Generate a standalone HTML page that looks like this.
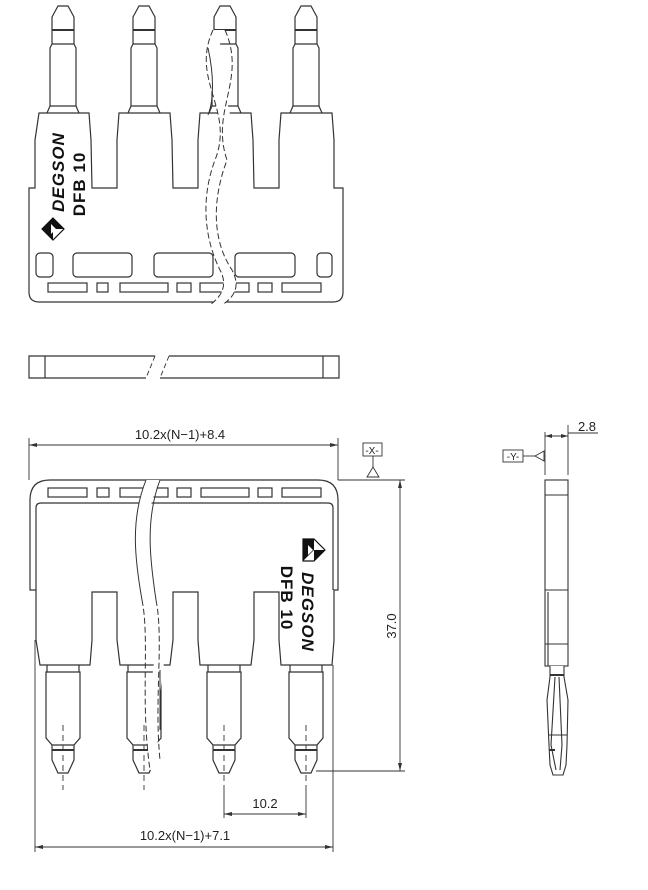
<!DOCTYPE html>
<html><head><style>
html,body{margin:0;padding:0;background:#fff;}
svg{display:block;}
text{font-family:"Liberation Sans",sans-serif;fill:#222;}
</style></head><body>
<svg width="648" height="890" viewBox="0 0 648 890" xmlns="http://www.w3.org/2000/svg">
<defs>
<g id="pinTop" fill="#fff" stroke="#333" stroke-width="1.2">
  <path d="M-16,113 L-13,106 L-13,48 L-11,44 L-11,17 L-5,6 L5,6 L11,17 L11,44 L13,48 L13,106 L16,113"/>
  <line x1="-11" y1="30" x2="11" y2="30" stroke-width="2"/>
  <line x1="-11" y1="44" x2="11" y2="44"/>
  <line x1="-13" y1="106" x2="13" y2="106"/>
</g>
<g id="pinBot" fill="#fff" stroke="#333" stroke-width="1.2">
  <path d="M-16,665 L-16,672 L-17,672 L-17,738 L-11,745 L-11,760 L-5,773 L5,773 L11,760 L11,745 L17,738 L17,672 L16,672 L16,665"/>
  <line x1="-16" y1="672" x2="16" y2="672"/>
  <line x1="-11" y1="745" x2="11" y2="745"/>
  <line x1="-11" y1="750" x2="11" y2="750" stroke-width="2"/>
  <line x1="0" y1="725" x2="0" y2="790" stroke-dasharray="6,4" stroke-width="0.9"/>
</g>
</defs>

<use href="#pinTop" x="63"/>
<use href="#pinTop" x="144"/>
<use href="#pinTop" x="225"/>
<use href="#pinTop" x="306"/>
<path d="M39,113 L89,113 L91,140 L92,188 L117,188 L117,140 L119,113 L170,113 L172,140 L173,188 L198,188 L198,140 L200,113 L251,113 L253,140 L254,188 L279,188 L279,140 L281,113 L332,113 L334,140 L334,188 L343,188 L343,292 Q343,302 333,302 L39,302 Q29,302 29,292 L29,188 L35,188 L35,140 Z" fill="#fff" stroke="#333" stroke-width="1.2"/>
<g fill="none" stroke="#333" stroke-width="1.2">
  <rect x="36" y="253" width="17" height="24" rx="4"/>
  <rect x="73" y="253" width="59" height="24" rx="4"/>
  <rect x="154" y="253" width="59" height="24" rx="4"/>
  <rect x="235" y="253" width="60" height="24" rx="4"/>
  <rect x="317" y="253" width="15" height="24" rx="4"/>
  <rect x="48" y="283" width="39" height="9"/>
  <rect x="97" y="283" width="11" height="9"/>
  <rect x="120" y="283" width="48" height="9"/>
  <rect x="177" y="283" width="14" height="9"/>
  <rect x="200" y="283" width="49" height="9"/>
  <rect x="258" y="283" width="14" height="9"/>
  <rect x="282" y="283" width="39" height="9"/>
</g>
<path d="M213,30 C190,80 235,110 215,160 C200,200 205,240 220,270 C228,285 222,296 210,305 L222,305 C236,296 240,285 232,270 C217,240 212,200 227,160 C247,110 202,80 225,30 Z" fill="#fff" stroke="none"/>
<path d="M213,30 C190,80 235,110 215,160 C200,200 205,240 220,270 C228,285 222,296 210,305" fill="none" stroke="#333" stroke-width="1" stroke-dasharray="6,3"/>
<path d="M225,30 C247,80 210,110 227,160 C212,200 212,240 232,270 C240,285 236,296 222,305" fill="none" stroke="#333" stroke-width="1" stroke-dasharray="6,3"/>
<path d="M208,48 C214,75 214,100 208,115" fill="none" stroke="#333" stroke-width="1"/>
<g transform="translate(53,229)">
  <path d="M0,-11 L11,0 L0,11 L-11,0 Z" fill="#fff" stroke="#111" stroke-width="1.2"/>
  <path d="M0,-11 L-11,0 L0,11 Z" fill="#111"/>
  <path d="M0,-11 L11,0 L0,0 Z" fill="#111"/>
  <path d="M-2,-5 L3,0 L-2,5 Z" fill="#fff"/>
</g>
<text x="0" y="0" transform="translate(64,172) rotate(-90)" text-anchor="middle" font-size="17" font-weight="bold" font-style="italic" letter-spacing="1" style="fill:#111">DEGSON</text>
<text x="0" y="0" transform="translate(85,184) rotate(-90)" text-anchor="middle" font-size="17" font-weight="bold" letter-spacing="1" style="fill:#111">DFB 10</text>

<g fill="none" stroke="#333" stroke-width="1.2">
  <path d="M155,356 L29,356 L29,378 L146,378"/>
  <path d="M169,356 L339,356 L339,378 L160,378"/>
  <line x1="45" y1="356" x2="45" y2="378"/>
  <line x1="323" y1="356" x2="323" y2="378"/>
  <line x1="155" y1="356" x2="146" y2="378" stroke-dasharray="5,3" stroke-width="0.9"/>
  <line x1="169" y1="356" x2="160" y2="378" stroke-dasharray="5,3" stroke-width="0.9"/>
</g>

<use href="#pinBot" x="63"/>
<use href="#pinBot" x="144"/>
<use href="#pinBot" x="224"/>
<use href="#pinBot" x="306"/>
<path d="M30,590 L30,500 Q30,480 50,480 L318,480 Q338,480 338,500 L338,590 L334,590 L334,640 L332,665 L281,665 L279,640 L279,592 L254,592 L254,640 L251,665 L200,665 L198,640 L198,592 L173,592 L173,640 L170,665 L120,665 L117,640 L117,592 L92,592 L92,640 L90,665 L40,665 L36,640 L36,590 Z" fill="#fff" stroke="#333" stroke-width="1.2"/>
<path d="M36,590 L36,508 Q36,503 41,503 L328,503 Q333,503 333,508 L333,590" fill="none" stroke="#333" stroke-width="1.2"/>
<g fill="none" stroke="#333" stroke-width="1.2">
  <rect x="48" y="488" width="39" height="9"/>
  <rect x="97" y="488" width="12" height="9"/>
  <rect x="120" y="488" width="48" height="9"/>
  <rect x="177" y="488" width="14" height="9"/>
  <rect x="201" y="488" width="48" height="9"/>
  <rect x="258" y="488" width="14" height="9"/>
  <rect x="282" y="488" width="39" height="9"/>
</g>
<path d="M146,480 C125,540 130,580 150,620 C165,650 140,700 150,770 L160,770 C150,700 175,650 160,620 C140,580 135,540 160,480 Z" fill="#fff" stroke="none"/>
<path d="M146,480 C130,520 135,560 142,600" fill="none" stroke="#333" stroke-width="1"/>
<path d="M160,480 C145,520 150,560 156,600" fill="none" stroke="#333" stroke-width="1"/>
<path d="M142,600 C150,640 140,700 150,770" fill="none" stroke="#333" stroke-width="1" stroke-dasharray="6,3"/>
<path d="M156,600 C164,640 154,700 160,760" fill="none" stroke="#333" stroke-width="1" stroke-dasharray="6,3"/>
<line x1="160" y1="670" x2="160" y2="730" stroke="#333" stroke-width="1"/>
<g transform="translate(314,550)">
  <path d="M-11,-11 L0,-11 L11,0 L0,11 L-11,11 Z" fill="#fff" stroke="#111" stroke-width="1.2"/>
  <path d="M-11,-11 L0,-11 L0,0 L-11,11 Z" fill="#111"/>
  <path d="M0,0 L11,0 L0,11 Z" fill="#111"/>
  <path d="M-6,-5 L-1,0 L-6,5 Z" fill="#fff"/>
</g>
<text x="0" y="0" transform="translate(302,612) rotate(90)" text-anchor="middle" font-size="17" font-weight="bold" font-style="italic" letter-spacing="1" style="fill:#111">DEGSON</text>
<text x="0" y="0" transform="translate(281,598) rotate(90)" text-anchor="middle" font-size="17" font-weight="bold" letter-spacing="1" style="fill:#111">DFB 10</text>

<g stroke="#333" stroke-width="0.9" fill="none">
  <line x1="29" y1="438" x2="29" y2="480"/>
  <line x1="338" y1="438" x2="338" y2="480"/>
  <line x1="29" y1="445" x2="338" y2="445"/>
  <line x1="338" y1="480" x2="405" y2="480"/>
  <line x1="316" y1="771" x2="405" y2="771"/>
  <line x1="400" y1="480" x2="400" y2="771"/>
  <line x1="35" y1="640" x2="35" y2="852"/>
  <line x1="333" y1="665" x2="333" y2="852"/>
  <line x1="35" y1="847" x2="333" y2="847"/>
  <line x1="224" y1="790" x2="224" y2="818"/>
  <line x1="306" y1="790" x2="306" y2="818"/>
  <line x1="224" y1="814" x2="306" y2="814"/>
  <rect x="363" y="443" width="19" height="13"/>
  <line x1="373" y1="456" x2="373" y2="467"/>
  <path d="M373,467 L367,477 L379,477 Z"/>
</g>
<g fill="#333">
  <path d="M29,445 L37,443 L37,447 Z"/><path d="M338,445 L330,443 L330,447 Z"/>
  <path d="M400,480 L398,488 L402,488 Z"/><path d="M400,771 L398,763 L402,763 Z"/>
  <path d="M35,847 L43,845 L43,849 Z"/><path d="M333,847 L325,845 L325,849 Z"/>
  <path d="M224,814 L232,812 L232,816 Z"/><path d="M306,814 L298,812 L298,816 Z"/>
</g>
<text x="180" y="439" text-anchor="middle" font-size="13">10.2x(N−1)+8.4</text>
<text x="372" y="454" text-anchor="middle" font-size="10">-X-</text>
<text x="0" y="0" transform="translate(396,626) rotate(-90)" text-anchor="middle" font-size="13">37.0</text>
<text x="265" y="808" text-anchor="middle" font-size="13">10.2</text>
<text x="185" y="840" text-anchor="middle" font-size="13">10.2x(N−1)+7.1</text>

<g fill="#fff" stroke="#333" stroke-width="1.1">
  <rect x="545" y="480" width="23" height="186"/>
  <line x1="545" y1="495" x2="568" y2="495"/>
  <line x1="545" y1="590" x2="568" y2="590"/>
  <line x1="545" y1="644" x2="568" y2="644"/>
  <line x1="548" y1="592" x2="548" y2="666"/>
  <path d="M550,666 L550,677 L547,700 L549,745 L550,765 L553,775 L563,775 L566,765 L567,745 L568,700 L564,677 L564,666"/>
  <line x1="550" y1="675" x2="564" y2="675" stroke-width="2"/>
  <path d="M555,677 L551,745 L556,770 M559,677 L562,745 L560,770" fill="none"/>
  <line x1="549" y1="735" x2="567" y2="735"/>
  <line x1="549" y1="750" x2="555" y2="750" stroke-width="2"/>
</g>
<g stroke="#333" stroke-width="0.9" fill="none">
  <line x1="545" y1="432" x2="545" y2="475"/>
  <line x1="568" y1="425" x2="568" y2="475"/>
  <line x1="545" y1="436" x2="568" y2="436"/>
  <line x1="568" y1="433" x2="598" y2="433"/>
  <rect x="503" y="450" width="20" height="12"/>
  <line x1="523" y1="456" x2="535" y2="456"/>
  <path d="M535,456 L544,451 L544,461 Z"/>
</g>
<g fill="#333"><path d="M545,436 L552,434 L552,438 Z"/><path d="M568,436 L561,434 L561,438 Z"/></g>
<text x="587" y="431" text-anchor="middle" font-size="13">2.8</text>
<text x="513" y="460" text-anchor="middle" font-size="10">-Y-</text>
</svg>
</body></html>
